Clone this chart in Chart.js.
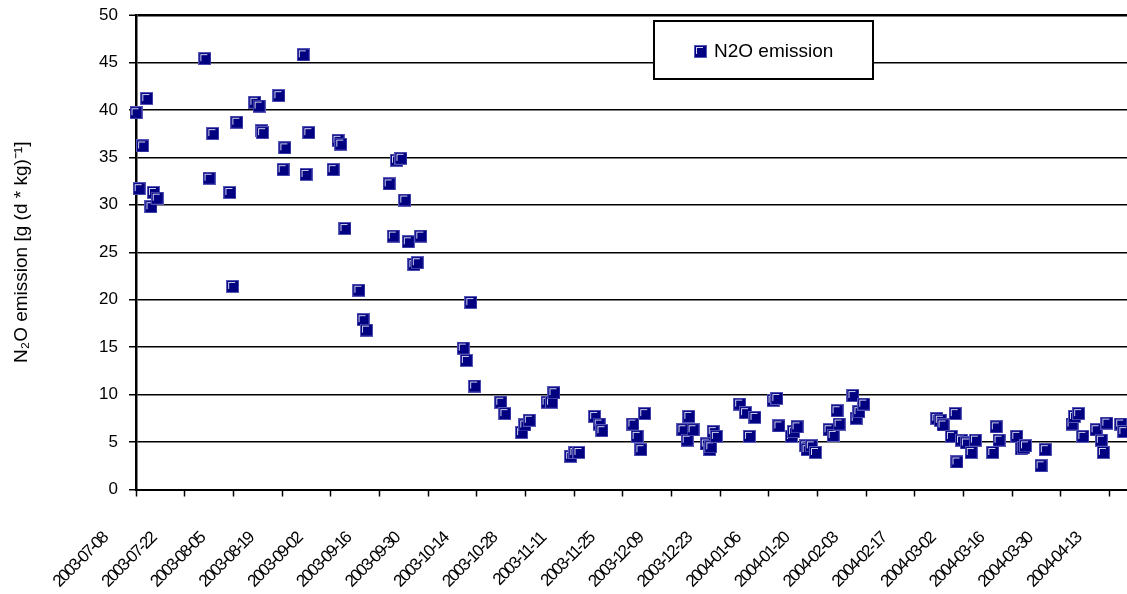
<!DOCTYPE html>
<html>
<head>
<meta charset="utf-8">
<script src="https://cdn.jsdelivr.net/npm/chart.js@4.4.1/dist/chart.umd.min.js"></script>
<style>
html,body{margin:0;padding:0;background:#fff;}
#wrap{width:1127px;height:594px;position:relative;}
</style>
</head>
<body>
<div id="wrap"><canvas id="c" width="1127" height="594"></canvas></div>
<script>
// ---- data (x = days since 2003-07-08) ----
const seriesName = 'N2O emission';
const yTitle = 'N\u2082O emission [g (d * kg)\u207B\u00B9]';
const tickDays = [0,14,28,42,56,70,84,98,112,126,140,154,168,182,196,210,224,238,252,266,280];
const tickLabels = ['2003-07-08','2003-07-22','2003-08-05','2003-08-19','2003-09-02','2003-09-16','2003-09-30',
  '2003-10-14','2003-10-28','2003-11-11','2003-11-25','2003-12-09','2003-12-23','2004-01-06','2004-01-20',
  '2004-02-03','2004-02-17','2004-03-02','2004-03-16','2004-03-30','2004-04-13'];
const yTicks = [0,5,10,15,20,25,30,35,40,45,50];
const days = [
  0,0.9,1.9,3.1,4.3,5.0,6.1,19.8,21.0,22.1,27.0,27.8,29.0,34.2,35.4,36.1,36.4,41.1,42.3,42.8,
  48.1,48.9,49.7,56.7,58.1,58.9,60.1,64.1,65.3,66.3,72.8,74.0,74.9,76.2,77.3,78.3,79.9,80.9,81.9,
  94.1,95.0,96.3,97.4,104.9,106.1,110.9,111.8,113.1,118.2,119.5,120.2,125.0,126.2,127.4,
  131.9,133.2,134.0,142.9,144.1,145.2,146.3,157.3,158.5,159.0,160.2,164.0,165.0,165.3,166.0,166.9,
  173.6,175.3,176.4,178.0,183.2,184.3,184.9,188.5,189.1,190.1,192.6,193.0,194.2,195.4,
  199.3,200.5,201.6,202.2,206.2,207.1,207.9,209.3,
  230.3,231.3,232.1,234.5,235.6,236.1,237.4,238.8,240.2,241.4,246.4,247.4,248.2,
  253.3,254.6,255.2,255.8,260.3,261.5,269.2,269.9,271.1,272.3,276.1,277.6,278.2,279.2,283.2,284.1
];
const emission = [
  39.7,31.7,36.2,41.2,29.8,31.3,30.7,45.4,32.8,37.5,31.3,21.4,38.7,40.8,40.4,37.8,37.6,41.5,33.7,36.0,
  45.8,33.2,37.6,33.7,36.8,36.4,27.5,21.0,17.9,16.8,32.2,26.7,34.7,34.9,30.5,26.1,23.7,23.9,26.7,
  14.9,13.6,19.7,10.9,9.2,8.0,6.0,6.8,7.3,9.2,9.2,10.2,3.5,3.9,3.9,
  7.7,6.9,6.2,6.9,5.6,4.2,8.0,6.3,5.2,7.7,6.3,4.8,4.2,4.5,6.1,5.6,
  9.0,8.1,5.6,7.6,9.4,9.6,6.7,5.6,6.1,6.6,4.6,4.2,4.6,3.9,
  6.3,5.7,8.3,6.9,9.9,7.5,8.2,9.0,
  7.5,7.3,6.8,5.6,8.0,2.9,5.2,4.9,3.9,5.2,3.9,6.6,5.2,
  5.6,4.3,4.4,4.6,2.5,4.2,6.9,7.7,8.0,5.6,6.3,5.2,3.9,7.0,6.9,6.1
];

// ---- marker style (Excel-like square) ----
function makeMarker(){
  const c = document.createElement('canvas');
  c.width = 13; c.height = 13;
  const g = c.getContext('2d');
  g.fillStyle = '#5656b6'; g.fillRect(0,0,13,13);
  g.fillStyle = '#000080'; g.fillRect(1,1,11,11);
  g.fillStyle = '#d4d4ee';
  g.fillRect(2,2,7,1);
  g.fillRect(2,2,1,7);
  return c;
}
const marker = makeMarker();

const FONT = '"Liberation Sans", Arial, sans-serif';

const boxLegend = {
  id: 'boxLegend',
  afterDatasetsDraw(chart){
    const ctx = chart.ctx, a = chart.chartArea;
    const x = a.left + 518, y = a.top + 6, w = 219, h = 58;
    ctx.save();
    ctx.fillStyle = '#fff'; ctx.fillRect(x, y, w, h);
    ctx.strokeStyle = '#000'; ctx.lineWidth = 2; ctx.strokeRect(x, y, w, h);
    ctx.drawImage(marker, x + 40, y + 24);
    ctx.fillStyle = '#000';
    ctx.font = '19px ' + FONT;
    ctx.textBaseline = 'middle';
    ctx.textAlign = 'left';
    ctx.fillText(seriesName, x + 60, y + 31);
    ctx.restore();
  }
};

const chart = new Chart(document.getElementById('c'), {
  type: 'scatter',
  data: {
    datasets: [{
      label: seriesName,
      data: days.map((d, i) => ({x: d, y: emission[i]})),
      pointStyle: marker,
      pointRadius: 6,
      backgroundColor: '#000080',
      borderColor: '#000080',
      clip: false
    }]
  },
  options: {
    responsive: false,
    animation: false,
    layout: {autoPadding: false, padding: {top: 15, right: 0, left: 0, bottom: 0}},
    plugins: {legend: {display: false}, tooltip: {enabled: false}},
    scales: {
      x: {
        type: 'linear', min: 0, max: 285,
        afterBuildTicks: s => { s.ticks = tickDays.map(v => ({value: v})); },
        afterFit: s => { s.height = 104.5; s.paddingLeft = 0; s.paddingRight = 0; },
        grid: {drawOnChartArea: false, drawTicks: true, tickLength: 7, tickColor: '#000', tickWidth: 1.5},
        border: {color: '#000', width: 2},
        ticks: {
          autoSkip: false, maxRotation: 45, minRotation: 45,
          labelOffset: -31, padding: 32, color: '#000',
          font: {family: FONT, size: 17},
          callback: (v) => tickLabels[tickDays.indexOf(v)]
        }
      },
      y: {
        min: 0, max: 50,
        afterBuildTicks: s => { s.ticks = yTicks.map(v => ({value: v})); },
        afterFit: s => { s.width = 136; s.paddingTop = 0; s.paddingBottom = 0; },
        grid: {
          color: '#000',
          lineWidth: c => (c.tick && c.tick.value === 50) ? 2.5 : 1.5,
          tickLength: 7, tickColor: '#000', tickWidth: 1.5
        },
        border: {color: '#000', width: 2.5},
        ticks: {padding: 11, color: '#000', font: {family: FONT, size: 17}},
        title: {
          display: true, text: yTitle, color: '#000',
          font: {family: FONT, size: 19},
          padding: {top: 10, bottom: 0}
        }
      }
    }
  },
  plugins: [boxLegend]
});

// condensed look of the rotated date labels
const xs = chart.scales.x;
const origDrawLabels = xs.drawLabels.bind(xs);
xs.drawLabels = function(area){
  const c = xs.ctx;
  c.save();
  c.letterSpacing = '-1.8px';
  origDrawLabels(area);
  c.restore();
};
chart.draw();
</script>
</body>
</html>
